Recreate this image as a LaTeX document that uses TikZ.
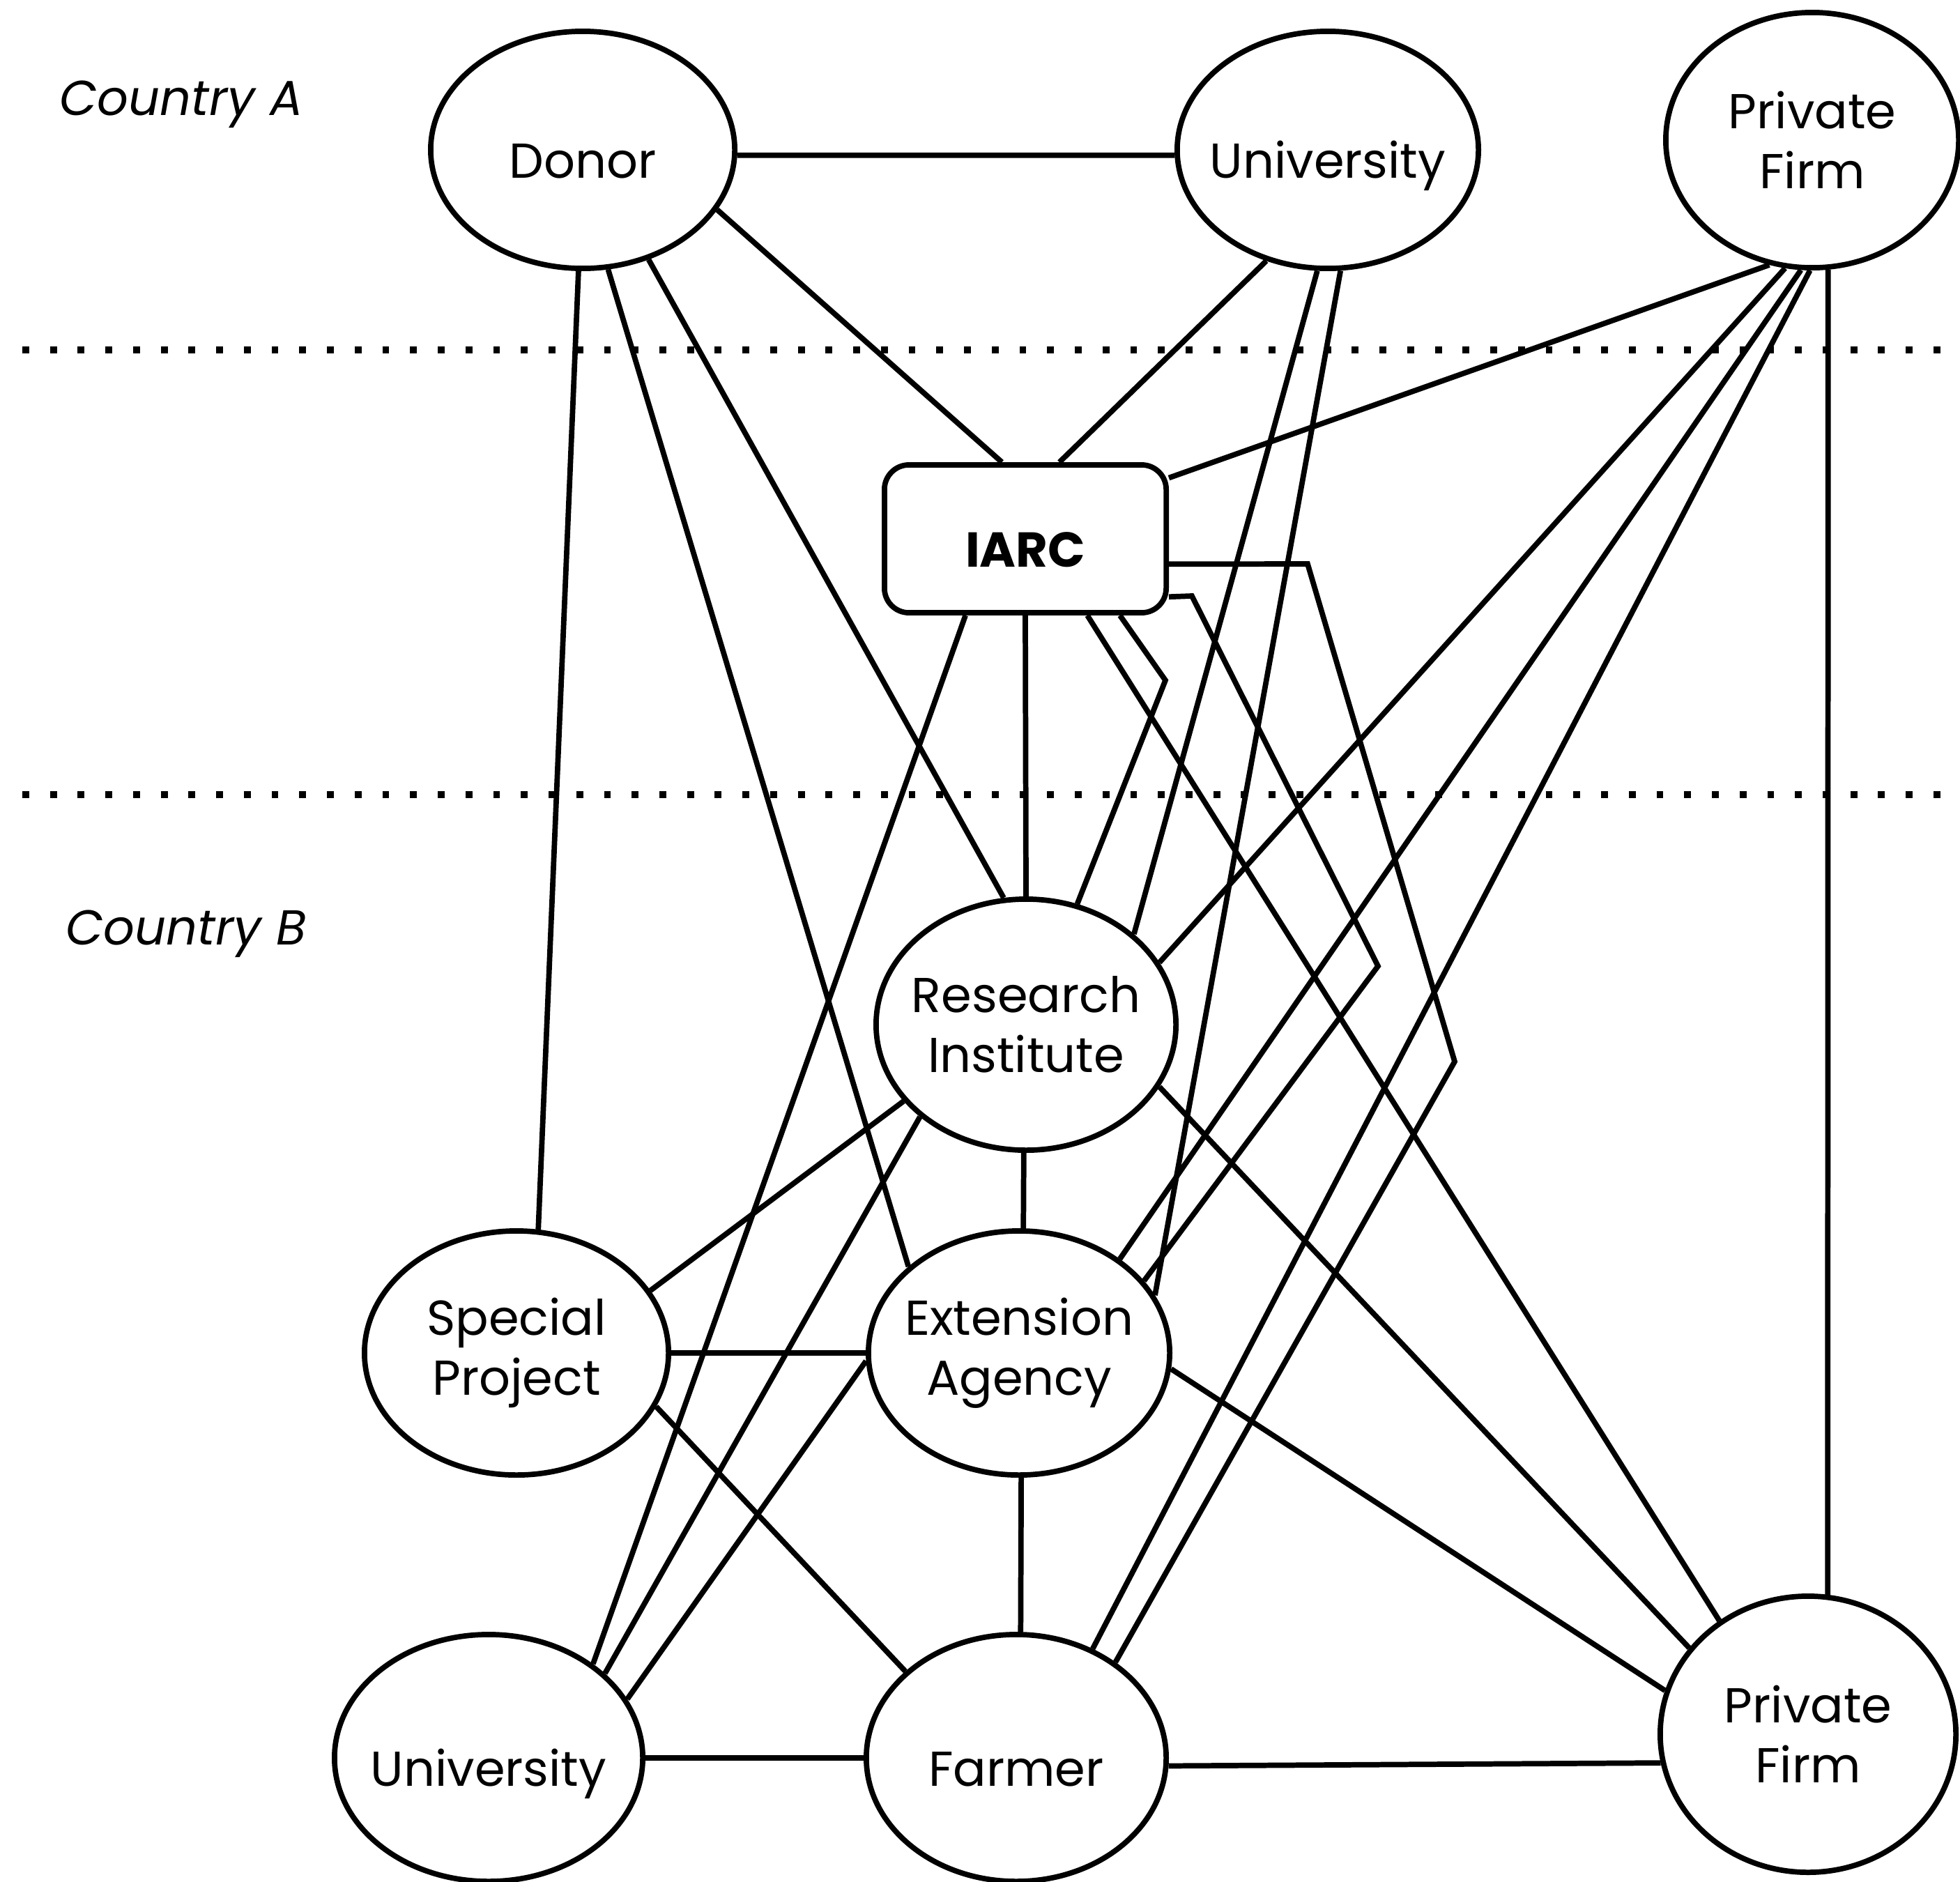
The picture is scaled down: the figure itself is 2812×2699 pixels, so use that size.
\documentclass[tikz,border=0pt]{standalone}
\usepackage{fontspec}
\setmainfont{Poppins}
\usetikzlibrary{shapes.geometric}
\newcommand{\zw}[1]{\makebox[0pt]{#1}}

\begin{document}
\begin{tikzpicture}[x=0.01cm, y=-0.01cm, line width=2.2pt, every node/.style={font=\fontsize{20}{24.5}\selectfont}]
    \tikzset{org/.style={draw=black, ellipse, inner sep=0pt, align=center}};
    \tikzset{oneline/.style={text height=0.95cm, text depth=0.15cm}};
    \tikzset{hub/.style={draw=black, rectangle, rounded corners=10pt, inner sep=0pt, minimum width=4.04cm, minimum height=2.12cm, oneline, font=\fontsize{20}{24.5}\selectfont\bfseries}};
    \tikzset{divider/.style={line width=2.8pt, dash pattern=on 2.8pt off 8.5pt}};
    \useasboundingbox (0,0) rectangle (2812,2699);

    % country A
    \node[org, oneline, minimum width=4.36cm, minimum height=3.4cm] (sDonor) at (836,215) {\zw{Donor}};
    \node[org, oneline, minimum width=4.32cm, minimum height=3.4cm] (sUnivA) at (1905,215) {\zw{University}};
    \node[org, minimum width=4.2cm, minimum height=3.66cm] (sFirmA) at (2600,201) {\zw{Private}\\\zw{Firm}};
    \node[hub] (sIARC) at (1471,773) {IARC};

    % country B
    \node[org, minimum width=4.3cm, minimum height=3.6cm] (sRes) at (1472,1470) {\zw{Research}\\\zw{Institute}};
    \node[org, minimum width=4.36cm, minimum height=3.5cm] (sSpec) at (741,1941) {\zw{Special}\\\zw{Project}};
    \node[org, minimum width=4.32cm, minimum height=3.5cm] (sExt) at (1462,1941) {\zw{Extension}\\\zw{Agency}};
    \node[org, oneline, minimum width=4.42cm, minimum height=3.54cm] (sUnivB) at (701,2522) {\zw{University}};
    \node[org, oneline, minimum width=4.3cm, minimum height=3.54cm] (sFarm) at (1458,2522) {\zw{Farmer}};
    \node[org, minimum width=4.24cm, minimum height=3.96cm] (sFirmB) at (2594,2488) {\zw{Private}\\\zw{Firm}};

    \node[anchor=west, font=\fontsize{20}{24.5}\selectfont\itshape] (sLblA) at (70,150) {Country A};
    \node[anchor=west, font=\fontsize{20}{24.5}\selectfont\itshape] (sLblB) at (79,1340) {Country B};

    \draw[divider] (32,502) -- (2812,502);
    \draw[divider] (32,1140) -- (2812,1140);

    {
      \path
        (sDonor.-2) edge (sUnivA.182)
        (sDonor.-24) edge (sIARC.107)
        (sDonor.-92) edge (sSpec.80)
        (sDonor.-78) edge (sExt.142)
        (sDonor.-59) edge (sRes.100)
        (sUnivA.-119) edge (sIARC.66)
        (sUnivA.-95) edge (sRes.40)
        (sUnivA.-84) edge (sExt.23)
        (sFirmA.-109) edge (sIARC.23)
        (sFirmA.-102) edge (sRes.25)
        (sFirmA.-95) edge (sExt.43)
        (sFirmA.-91) edge (sFarm.55)
        (sFirmA.-83) edge (sFirmB.82)
        (sIARC.south) edge (sRes.north)
        (sIARC.-128) edge (sUnivB.42)
        (sIARC.-51) edge (sFirmB.128)
        (sRes.-91) edge (sExt.88)
        (sRes.-148) edge (sSpec.25)
        (sRes.-139) edge (sUnivB.36)
        (sRes.-25) edge (sFirmB.144)
        (sSpec.east) edge (sExt.west)
        (sSpec.-21) edge (sFarm.142)
        (sExt.-89) edge (sFarm.88)
        (sExt.-177) edge (sUnivB.23)
        (sExt.-6) edge (sFirmB.163)
        (sUnivB.east) edge (sFarm.west)
        (sFarm.-3) edge (sFirmB.191)
        ;
    }
    % lines from IARC that bend
    \draw (sIARC.-39) -- (1672,976) -- (sRes.67);
    \draw (sIARC.-10) -- (1876,809) -- (2087,1523) -- (sFarm.44);
    \draw (sIARC.-22) -- (1710,855) -- (1977,1386) -- (sExt.30);

\end{tikzpicture}
\end{document}
